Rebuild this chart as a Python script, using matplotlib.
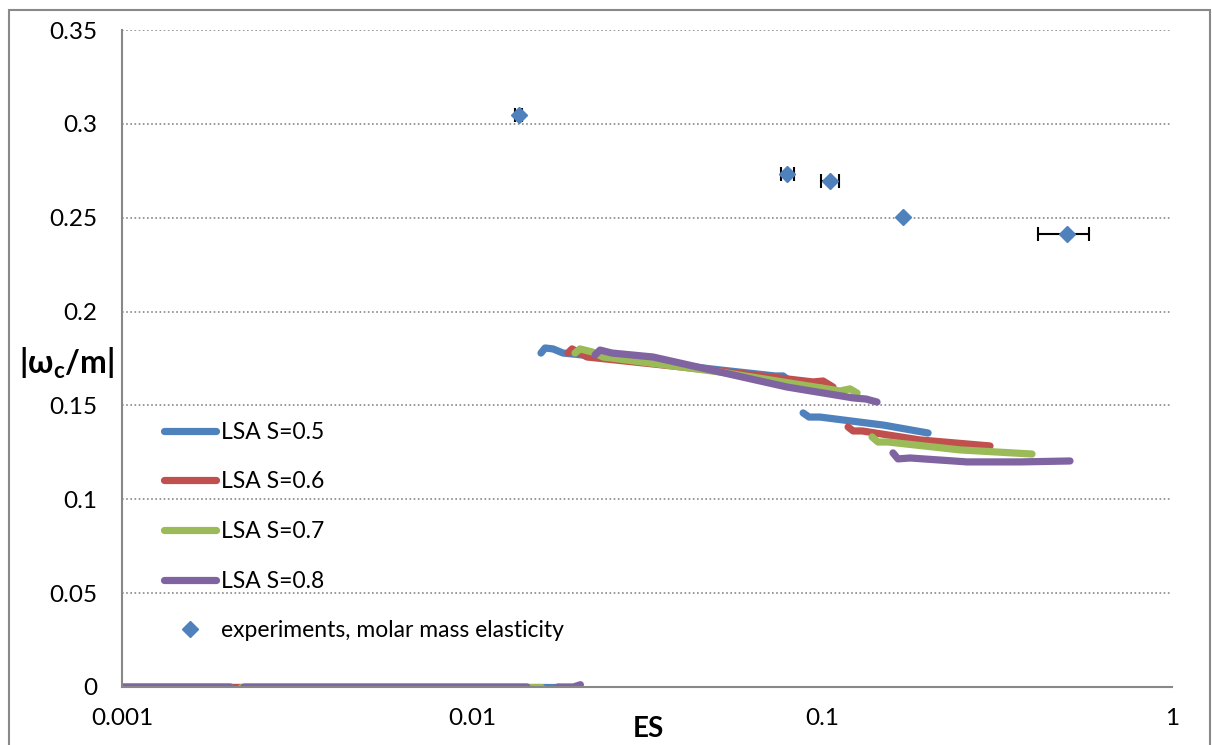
import numpy as np
import matplotlib
matplotlib.use("Agg")
from matplotlib import pyplot as plt
from matplotlib.patches import Rectangle

plt.rcParams['font.family'] = ['Lato', 'DejaVu Sans']
plt.rcParams['mathtext.fontset'] = 'custom'
plt.rcParams['mathtext.bf'] = 'Lato:bold'
plt.rcParams['mathtext.rm'] = 'Lato'

# experiments
exp_es = [0.0136, 0.0794, 0.1054, 0.170, 0.501]
exp_w = [0.3047, 0.2733, 0.2696, 0.2504, 0.2413]
exp_lo = [0.0133, 0.0764, 0.0993, 0.170, 0.414]
exp_hi = [0.0139, 0.0832, 0.1120, 0.170, 0.581]

# LSA curves: zero branch, upper branch, lower branch
s05_zero_x = [0.001, 0.0176]
s05_zero_y = [0.0, 0.0]
s05_up_x = [0.01574, 0.01617, 0.01704, 0.01820, 0.03289, 0.05111, 0.0734, 0.07737, 0.07943]
s05_up_y = [0.1779, 0.1806, 0.1801, 0.1779, 0.1731, 0.1689, 0.1657, 0.1657, 0.1641]
s05_lo_x = [0.0883, 0.0918, 0.0987, 0.150, 0.2009]
s05_lo_y = [0.1460, 0.1438, 0.1438, 0.1395, 0.1353]

s06_zero_x = [0.001, 0.00219]
s06_zero_y = [0.0, 0.0]
s06_up_x = [0.01880, 0.01931, 0.02130, 0.05111, 0.09426, 0.1007, 0.1075]
s06_up_y = [0.1779, 0.1801, 0.1758, 0.1683, 0.1625, 0.1630, 0.1598]
s06_lo_x = [0.1187, 0.1227, 0.1301, 0.1905, 0.3020]
s06_lo_y = [0.1385, 0.1364, 0.1364, 0.1316, 0.1284]

s07_zero_x = [0.001, 0.00204, np.nan, 0.00219, 0.01574]
s07_zero_y = [0.0, 0.0, np.nan, 0.0, 0.0]
s07_up_x = [0.01969, 0.02034, 0.02202, 0.02367, 0.05111, 0.1126, 0.1202, 0.1259]
s07_up_y = [0.1779, 0.1801, 0.1785, 0.1758, 0.1678, 0.1577, 0.1588, 0.1566]
s07_lo_x = [0.1390, 0.1445, 0.1544, 0.2479, 0.3981]
s07_lo_y = [0.1332, 0.1305, 0.1305, 0.1263, 0.1241]

s08_zero_x = [0.001, 0.00204, np.nan, 0.00223, 0.01436, np.nan, 0.0176, 0.0195, 0.0204]
s08_zero_y = [0.0, 0.0, np.nan, 0.0, 0.0, np.nan, 0.0, 0.0, 0.0012]
s08_up_x = [0.02246, 0.02321, 0.02512, 0.03289, 0.05111, 0.07943, 0.1227, 0.1336, 0.1436]
s08_up_y = [0.1769, 0.1795, 0.1779, 0.1758, 0.1678, 0.1598, 0.1540, 0.1534, 0.1518]
s08_lo_x = [0.1595, 0.1648, 0.1784, 0.2597, 0.3679, 0.5111]
s08_lo_y = [0.1247, 0.1215, 0.1220, 0.1199, 0.1199, 0.1204]

series = [
    ("LSA S=0.5", "#4F81BD", s05_zero_x, s05_zero_y, s05_up_x, s05_up_y, s05_lo_x, s05_lo_y),
    ("LSA S=0.6", "#C0504D", s06_zero_x, s06_zero_y, s06_up_x, s06_up_y, s06_lo_x, s06_lo_y),
    ("LSA S=0.7", "#9BBB59", s07_zero_x, s07_zero_y, s07_up_x, s07_up_y, s07_lo_x, s07_lo_y),
    ("LSA S=0.8", "#8064A2", s08_zero_x, s08_zero_y, s08_up_x, s08_up_y, s08_lo_x, s08_lo_y),
]

fig = plt.figure(figsize=(12.12, 7.45), dpi=100)
ax = fig.add_axes([0.1007, 0.0779, 0.8663, 0.8818])

fig.patches.append(Rectangle((0.0074, -0.05), 0.991, 1.0366, transform=fig.transFigure,
                             fill=False, edgecolor='#898989', lw=1.5))

handles = []
for name, col, zx, zy, ux, uy, lx, ly in series:
    h, = ax.plot(zx, zy, color=col, lw=5.2, solid_capstyle='round', solid_joinstyle='round', label=name)
    ax.plot(ux, uy, color=col, lw=5.2, solid_capstyle='round', solid_joinstyle='round')
    ax.plot(lx, ly, color=col, lw=5.2, solid_capstyle='round', solid_joinstyle='round')
    handles.append(h)

xerr = [np.array(exp_es) - np.array(exp_lo), np.array(exp_hi) - np.array(exp_es)]
ax.errorbar(exp_es, exp_w, xerr=xerr, fmt='none', ecolor='black', elinewidth=1.5,
            capsize=5, capthick=1.5, zorder=4)
hp, = ax.plot(exp_es, exp_w, 'D', color='#4F81BD', markersize=8, ls='none', zorder=5,
              label='experiments, molar mass elasticity')
handles.append(hp)

ax.set_xscale('log')
ax.set_xlim(0.001, 1)
ax.set_ylim(0, 0.35)
ax.set_yticks(np.arange(0, 0.351, 0.05))
ax.set_yticklabels(['0', '0.05', '0.1', '0.15', '0.2', '0.25', '0.3', '0.35'])
ax.set_xticks([0.001, 0.01, 0.1, 1])
ax.set_xticklabels(['0.001', '0.01', '0.1', '1'])
ax.minorticks_off()
ax.tick_params(axis='both', length=0, labelsize=17.5)
ax.tick_params(axis='y', pad=18)
ax.tick_params(axis='x', pad=15)
ax.yaxis.grid(True, linestyle=(0, (1, 1.5)), color='#888888', lw=1.2)
ax.set_axisbelow(True)
for s in ['top', 'right']:
    ax.spines[s].set_visible(False)
for s in ['left', 'bottom']:
    ax.spines[s].set_color('#888888')
    ax.spines[s].set_linewidth(1.5)

fig.text(648 / 1212, 1 - 729 / 745, 'ES', fontsize=20, fontweight='bold', ha='center', va='center')
fig.text(67 / 1212, 1 - 363 / 745, r'|ω$_\mathbf{c}$/m|', fontsize=23, fontweight='bold',
         ha='center', va='center', family=['Lato', 'DejaVu Sans'])

leg = ax.legend(handles=handles, loc='upper left', bbox_to_anchor=(0.02, 0.435), frameon=False,
                fontsize=16.5, handlelength=2.3, handletextpad=0.2, labelspacing=1.25)

fig.savefig('out.png', dpi=100)
